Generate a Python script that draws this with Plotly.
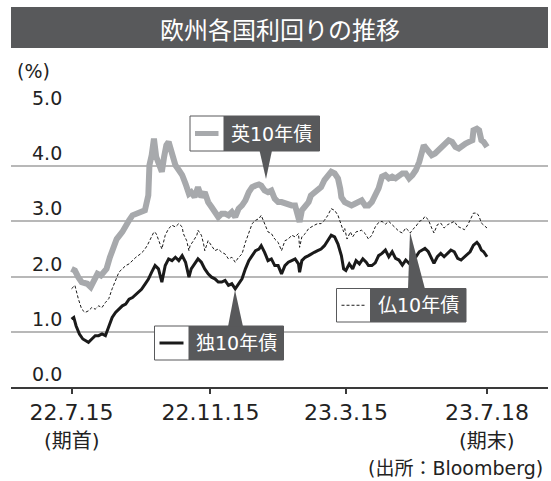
import pandas as pd
import plotly.graph_objects as go

# ---------------- data ----------------
start_date = "2022-07-15"

uk_days = [0, 3, 6, 9, 14, 17, 20, 23, 26, 29, 31, 34, 37, 40, 45, 48, 51, 54, 57, 61,
           65, 68, 69, 71, 73, 75, 77, 80, 82, 84, 86, 89, 92, 95, 98, 101, 104, 106, 109, 112,
           115, 118, 121, 124, 127, 130, 133, 136, 139, 142, 145, 148, 151, 154, 157, 160, 163, 166, 168, 171,
           174, 177, 180, 183, 186, 189, 192, 195, 198, 201, 202, 204, 207, 210, 212, 215, 218, 221, 224, 227,
           230, 233, 236, 238, 239, 242, 245, 248, 251, 254, 257, 260, 263, 266, 269, 272, 275, 278, 281, 284,
           287, 290, 293, 296, 299, 302, 305, 308, 311, 312, 313, 316, 319, 322, 325, 328, 331, 334, 337, 340,
           343, 346, 349, 352, 355, 356, 359, 361, 363, 365, 368]
uk = [2.14, 2.11, 1.99, 1.90, 1.87, 1.81, 1.93, 2.05, 2.02, 2.11, 2.14, 2.35, 2.50, 2.68, 2.81, 2.93, 3.02, 3.11, 3.14, 3.16,
      3.20, 3.47, 4.02, 4.20, 4.50, 4.17, 4.08, 3.90, 4.17, 4.38, 4.44, 4.20, 4.02, 3.93, 3.84, 3.68, 3.50, 3.53, 3.44, 3.62,
      3.44, 3.53, 3.35, 3.26, 3.17, 3.08, 3.14, 3.14, 3.11, 3.17, 3.08, 3.23, 3.29, 3.38, 3.53, 3.62, 3.65, 3.67, 3.65, 3.56,
      3.53, 3.56, 3.41, 3.35, 3.35, 3.32, 3.32, 3.29, 3.29, 3.08, 2.99, 3.20, 3.29, 3.35, 3.47, 3.53, 3.56, 3.62, 3.75, 3.84,
      3.90, 3.87, 3.78, 3.59, 3.44, 3.35, 3.32, 3.29, 3.32, 3.35, 3.38, 3.29, 3.29, 3.35, 3.45, 3.60, 3.81, 3.84, 3.78, 3.81,
      3.78, 3.84, 3.87, 3.87, 3.78, 3.84, 3.93, 4.08, 4.26, 4.38, 4.35, 4.26, 4.20, 4.23, 4.29, 4.32, 4.38, 4.47, 4.44, 4.35,
      4.32, 4.38, 4.41, 4.44, 4.47, 4.65, 4.68, 4.65, 4.47, 4.44, 4.35]

fr_days = [0, 3, 6, 9, 12, 15, 18, 21, 24, 27, 30, 33, 36, 39, 42, 45, 48, 51, 54, 57,
           61, 64, 67, 69, 71, 73, 75, 77, 80, 83, 86, 89, 92, 95, 98, 99, 102, 104, 105, 108,
           111, 112, 115, 117, 118, 121, 124, 127, 130, 133, 136, 139, 142, 145, 148, 151, 154, 157, 160, 163,
           166, 168, 171, 174, 177, 180, 183, 186, 189, 192, 195, 198, 201, 202, 204, 207, 210, 212, 215, 218,
           221, 224, 227, 230, 233, 236, 239, 241, 242, 244, 247, 249, 252, 257, 260, 263, 266, 269, 272, 275,
           278, 281, 284, 287, 290, 293, 296, 299, 300, 302, 305, 308, 311, 313, 316, 319, 321, 324, 327, 330,
           333, 336, 339, 342, 345, 348, 351, 353, 356, 359, 361, 363, 365, 368]
fr = [1.78, 1.84, 1.60, 1.41, 1.35, 1.38, 1.44, 1.41, 1.47, 1.44, 1.53, 1.60, 1.78, 1.93, 2.08, 2.14, 2.20, 2.23, 2.29, 2.35,
      2.41, 2.47, 2.56, 2.65, 2.72, 2.81, 2.78, 2.68, 2.50, 2.75, 2.87, 2.93, 2.90, 2.96, 2.90, 2.78, 2.65, 2.47, 2.56, 2.65,
      2.75, 2.84, 2.75, 2.59, 2.47, 2.65, 2.56, 2.47, 2.50, 2.44, 2.41, 2.32, 2.35, 2.26, 2.35, 2.41, 2.62, 2.81, 2.96, 3.02,
      3.05, 3.11, 2.96, 2.81, 2.78, 2.68, 2.62, 2.47, 2.65, 2.68, 2.75, 2.72, 2.78, 2.53, 2.72, 2.78, 2.87, 2.90, 2.93, 2.96,
      2.96, 3.02, 3.11, 3.23, 3.20, 3.11, 2.93, 2.81, 2.87, 2.68, 2.81, 2.72, 2.81, 2.84, 2.78, 2.68, 2.75, 2.90, 2.98, 3.00,
      2.95, 3.00, 2.94, 2.88, 2.82, 2.79, 2.88, 2.82, 2.79, 2.85, 2.91, 3.00, 3.03, 3.09, 3.03, 2.88, 2.79, 2.94, 2.97, 2.88,
      2.94, 2.97, 3.00, 2.91, 2.88, 2.85, 2.94, 3.03, 3.15, 3.15, 3.09, 2.97, 2.94, 2.88]

de_days = [0, 2, 4, 7, 10, 15, 18, 21, 24, 27, 30, 33, 36, 39, 42, 45, 48, 51, 54, 57,
           60, 62, 65, 68, 71, 74, 77, 79, 80, 83, 86, 89, 92, 95, 98, 101, 104, 106, 109, 112,
           115, 118, 121, 124, 127, 130, 133, 136, 139, 142, 145, 148, 151, 154, 157, 160, 163, 166, 168, 171,
           174, 177, 180, 183, 186, 189, 192, 195, 198, 201, 202, 204, 207, 210, 212, 215, 218, 221, 224, 227,
           230, 233, 236, 239, 241, 243, 246, 249, 252, 255, 258, 261, 263, 266, 269, 272, 275, 278, 281, 284,
           287, 290, 293, 296, 299, 302, 305, 308, 311, 313, 316, 319, 321, 324, 327, 330, 333, 336, 339, 342,
           345, 348, 351, 353, 356, 359, 361, 363, 365, 368]
de = [1.23, 1.26, 1.11, 0.96, 0.87, 0.81, 0.87, 0.93, 0.93, 0.96, 0.93, 1.11, 1.26, 1.35, 1.41, 1.47, 1.50, 1.59, 1.62, 1.68,
      1.74, 1.77, 1.86, 1.95, 2.08, 2.20, 2.14, 1.95, 1.90, 2.20, 2.32, 2.29, 2.35, 2.29, 2.38, 2.26, 1.99, 2.14, 2.23, 2.32,
      2.26, 2.14, 2.05, 1.99, 1.96, 1.90, 1.90, 1.93, 1.84, 1.87, 1.78, 1.87, 1.96, 2.14, 2.29, 2.38, 2.47, 2.50, 2.56, 2.44,
      2.29, 2.32, 2.20, 2.20, 2.05, 2.20, 2.26, 2.29, 2.32, 2.23, 2.08, 2.29, 2.35, 2.38, 2.41, 2.44, 2.47, 2.50, 2.56, 2.65,
      2.75, 2.72, 2.59, 2.38, 2.14, 2.11, 2.23, 2.14, 2.29, 2.23, 2.32, 2.26, 2.20, 2.20, 2.25, 2.38, 2.42, 2.48, 2.36, 2.45,
      2.33, 2.30, 2.21, 2.30, 2.24, 2.33, 2.36, 2.45, 2.48, 2.51, 2.45, 2.33, 2.24, 2.36, 2.42, 2.36, 2.42, 2.48, 2.45, 2.33,
      2.30, 2.36, 2.42, 2.45, 2.57, 2.62, 2.57, 2.48, 2.45, 2.36]

y_ticks = [0.0, 1.0, 2.0, 3.0, 4.0, 5.0]
x_tick_dates = ["2022-07-15", "2022-11-15", "2023-03-15", "2023-07-18"]
x_tick_text = ["22.7.15", "22.11.15", "23.3.15", "23.7.18"]
x_sub_labels = {"2022-07-15": "(期首)", "2023-07-18": "(期末)"}

title_text = "欧州各国利回りの推移"
unit_text = "(%)"
source_text = "(出所：Bloomberg)"
uk_name, fr_name, de_name = "英10年債", "仏10年債", "独10年債"

# ---------------- styling ----------------
W, H = 551, 481
L, R, T, B = 11, 548, 111, 387
DARK = "#58595b"
UK_C = "#a7a9ac"
BLK = "#1a1a1a"
FONT = "DejaVu Sans, Noto Sans CJK JP, sans-serif"
JFONT = "Noto Sans CJK JP, DejaVu Sans, sans-serif"


def xp(px):
    return (px - L) / (R - L)


def yp(py):
    return (B - py) / (B - T)


t0 = pd.Timestamp(start_date)


def to_dates(days):
    return [t0 + pd.Timedelta(days=d) for d in days]


fig = go.Figure()
fig.add_trace(go.Scatter(x=to_dates(uk_days), y=uk, mode="lines", name=uk_name,
                         line=dict(color=UK_C, width=6), showlegend=False))
fig.add_trace(go.Scatter(x=to_dates(fr_days), y=fr, mode="lines", name=fr_name,
                         line=dict(color=BLK, width=1, dash="3px,2px"), showlegend=False))
fig.add_trace(go.Scatter(x=to_dates(de_days), y=de, mode="lines", name=de_name,
                         line=dict(color=BLK, width=3), showlegend=False))

x_lo = t0 + pd.Timedelta(days=-53.6)
x_hi = t0 + pd.Timedelta(days=422.0)

fig.update_layout(
    width=W, height=H,
    margin=dict(l=L, r=W - R, t=T, b=H - B, pad=0),
    paper_bgcolor="white", plot_bgcolor="white",
    font=dict(family=FONT, color="#222"),
    xaxis=dict(range=[x_lo, x_hi], type="date", showgrid=False, zeroline=False,
               showline=True, linecolor="#3a3a3a", linewidth=1.5,
               ticks="outside", ticklen=5, tickwidth=1.5, tickcolor="#3a3a3a",
               tickvals=x_tick_dates, ticktext=x_tick_text,
               tickfont=dict(size=22, family=FONT, color="#222")),
    yaxis=dict(range=[0, 5], showgrid=True, gridcolor="#b8b8b8", gridwidth=1.5,
               tickvals=y_ticks[1:], showticklabels=False, zeroline=False, showline=False),
)

shapes = []
ann = []

# title bar
shapes.append(dict(type="rect", xref="paper", yref="paper", x0=xp(11), x1=xp(548), y0=yp(48), y1=yp(7),
                   fillcolor=DARK, line=dict(width=0), layer="above"))
ann.append(dict(text=title_text, xref="paper", yref="paper", x=xp(279.5), y=yp(28), showarrow=False,
                xanchor="center", yanchor="middle", font=dict(size=24, color="white", family=JFONT)))

# unit
ann.append(dict(text=unit_text, xref="paper", yref="paper", x=xp(15), y=yp(71), showarrow=False,
                xanchor="left", yanchor="middle", font=dict(size=19, color="#222", family=FONT)))

# y tick labels above gridlines
for v in y_ticks:
    ann.append(dict(text=f"{v:.1f}", xref="paper", yref="y", x=xp(30), y=v, showarrow=False,
                    xanchor="left", yanchor="bottom", yshift=0,
                    font=dict(size=19, color="#222", family=FONT)))

# sub labels below x ticks
for d, s in x_sub_labels.items():
    ann.append(dict(text=s, xref="x", yref="paper", x=d, y=yp(441), showarrow=False,
                    xanchor="center", yanchor="middle", font=dict(size=20, color="#222", family=FONT)))

# source
ann.append(dict(text=source_text, xref="paper", yref="paper", x=xp(545), y=yp(468), showarrow=False,
                xanchor="right", yanchor="middle", font=dict(size=19, color="#222", family=FONT)))


def label_box(x_white, x_dark, x_end, y_top, y_bot, text, sample):
    shapes.append(dict(type="rect", xref="paper", yref="paper", x0=xp(x_white), x1=xp(x_end),
                       y0=yp(y_bot), y1=yp(y_top), fillcolor="white",
                       line=dict(color=DARK, width=1), layer="above"))
    shapes.append(dict(type="rect", xref="paper", yref="paper", x0=xp(x_dark), x1=xp(x_end),
                       y0=yp(y_bot), y1=yp(y_top), fillcolor=DARK, line=dict(width=0), layer="above"))
    ym = (y_top + y_bot) / 2
    shapes.append(dict(type="line", xref="paper", yref="paper", x0=xp(x_white + 5), x1=xp(x_dark - 5),
                       y0=yp(ym), y1=yp(ym), line=sample, layer="above"))
    ann.append(dict(text=text, xref="paper", yref="paper", x=xp((x_dark + x_end) / 2), y=yp(ym),
                    showarrow=False, xanchor="center", yanchor="middle",
                    font=dict(size=19, color="white", family=FONT)))


def pointer(pts):
    p = "M " + " L ".join(f"{xp(a):.5f},{yp(b):.5f}" for a, b in pts) + " Z"
    shapes.append(dict(type="path", xref="paper", yref="paper", path=p, fillcolor=DARK,
                       line=dict(width=0), layer="above"))


label_box(190, 223.5, 319.5, 116, 151, uk_name, dict(color=UK_C, width=5))
pointer([(259.5, 150.5), (272, 150.5), (266, 179)])

label_box(154.5, 188.5, 283.5, 326, 360, de_name, dict(color=BLK, width=3))
pointer([(228, 326.5), (243, 326.5), (235, 290)])

label_box(336.5, 370, 466, 288.5, 322, fr_name, dict(color=BLK, width=1, dash="3px,2px"))
pointer([(408, 289), (425, 289), (410, 232)])

fig.update_layout(shapes=shapes, annotations=ann)
fig.write_html("out.html", config={"displayModeBar": False},
               post_script="document.body.style.margin='0';document.body.style.overflow='hidden';")
